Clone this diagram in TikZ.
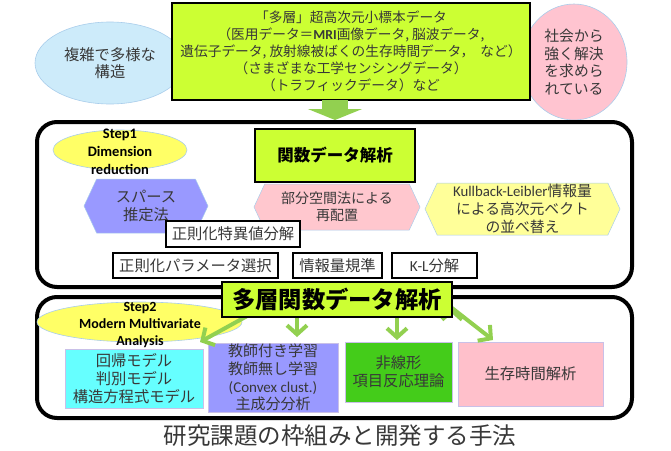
\documentclass[tikz,border=0pt]{standalone}
\usepackage{fontspec}
\setmainfont{Noto Sans CJK JP}
\newfontfamily\latin{Carlito}
\usetikzlibrary{shapes.geometric, shapes.symbols, arrows.meta}

\definecolor{limeyellow}{HTML}{CCFF33}
\definecolor{arrowgreen}{HTML}{92D050}
\definecolor{skyblob}{HTML}{CDEBFA}
\definecolor{pinkblob}{HTML}{FFC4D0}
\definecolor{bordblue}{HTML}{A9CDEB}
\definecolor{bordlilac}{HTML}{C9C0E8}
\definecolor{stepyellow}{HTML}{FFFF66}
\definecolor{hexpurple}{HTML}{9999FF}
\definecolor{hexpink}{HTML}{FFC7CE}
\definecolor{hexyellow}{HTML}{FFFF99}
\definecolor{boxcyan}{HTML}{66FFFF}
\definecolor{boxgreen}{HTML}{44CC1A}
\definecolor{boxpink}{HTML}{FFC0CB}
\definecolor{textgrey}{HTML}{383838}

\begin{document}
\begin{tikzpicture}[x=1pt, y=-1pt, inner sep=0pt, text=textgrey,
  font=\fontsize{13.7}{17}\selectfont]
  \tikzset{
    blob/.style={ellipse, draw=bordblue, line width=0.6pt, align=center},
    limebox/.style={draw=black, line width=2pt, fill=limeyellow, align=center},
    hexa/.style={signal, signal to=west and east, signal pointer angle=130,
      draw=bordblue, line width=0.5pt, align=center},
    tagbox/.style={draw=black, line width=1.8pt, fill=white,
      font=\fontsize{15.3}{17}\selectfont},
    frame/.style={draw=black, line width=4pt, rounded corners=20pt},
    method/.style={draw=bordlilac, line width=0.6pt, align=center,
      font=\fontsize{15.3}{18}\selectfont},
    steplabel/.style={align=center, text=black,
      font=\latin\bfseries\fontsize{14.5}{18}\selectfont},
    thinarrow/.style={draw=arrowgreen, line width=4pt,
      -{Straight Barb[length=9pt,width=20pt]}}
  }
  \useasboundingbox (0,0) rectangle (671,450);

  % top row
  \node[blob, fill=skyblob, minimum width=150, minimum height=82,
    font=\fontsize{15.3}{16.5}\selectfont] (complex) at (110,63) {複雑で多様な\\構造};
  \node[blob, fill=pinkblob, minimum width=106, minimum height=116,
    font=\fontsize{14.8}{17.5}\selectfont] (society) at (574,62)
    {社会から\\強く解決\\を求めら\\れている};
  \node[limebox, minimum width=358, minimum height=97] (data) at (351,51.5)
    {「多層」超高次元小標本データ\\
     （医用データ＝{\latin\bfseries MRI}画像データ, 脳波データ,\\
     遺伝子データ, 放射線被ばくの生存時間データ，\ \ など）\\
     （さまざまな工学センシングデータ）\\
     （トラフィックデータ）など};

  % frames
  \node[frame, minimum width=595, minimum height=165] (frame1) at (334.5,204.5) {};
  \node[frame, minimum width=595, minimum height=121] (frame2) at (334.5,357.5) {};

  \coordinate (dn) at (335,100);
  \draw[arrowgreen, line width=26pt, -{Triangle[length=11pt,width=54pt]}]
    (dn) -- (dn |- frame1.north);

  % step 1
  \node[blob, fill=stepyellow, minimum width=134, minimum height=40] (step1) at (120,150) {};
  \node[steplabel] (step1txt) at (120,152) {Step1\\Dimension\\reduction};
  \node[limebox, minimum width=160, minimum height=53, text=black,
    font=\bfseries\fontsize{16.5}{19}\selectfont] (fda) at (335,155.5) {関数データ解析};

  \node[hexa, fill=hexpurple, minimum width=124, minimum height=54,
    font=\fontsize{15.3}{18}\selectfont] (sparse) at (146,206) {スパース\\推定法};
  \node[hexa, fill=hexpink, minimum width=166, minimum height=46,
    font=\fontsize{14}{17}\selectfont] (subspace) at (337,207) {部分空間法による\\再配置};
  \node[hexa, fill=hexyellow, minimum width=195, minimum height=52,
    font=\fontsize{14.8}{18}\selectfont] (kullback) at (522.5,209)
    {{\latin Kullback-Leibler}情報量\\による高次元ベクト\\の並べ替え};

  \node[tagbox, minimum width=134, minimum height=26] (svd) at (233,234) {正則化特異値分解};
  \node[tagbox, minimum width=165, minimum height=25] (param) at (195.5,265.5) {正則化パラメータ選択};
  \node[tagbox, minimum width=89, minimum height=25] (info) at (337.5,265.5) {情報量規準};
  \node[tagbox, minimum width=85, minimum height=25] (kl) at (434.5,265.5) {{\latin K-L}分解};

  % step 2
  \node[blob, fill=stepyellow, minimum width=205, minimum height=40] (step2) at (139.5,322) {};
  \node[steplabel, font=\latin\bfseries\fontsize{14}{17}\selectfont] (step2txt)
    at (140,325) {Step2\\Modern Multivariate\\Analysis};

  \node[method, fill=boxcyan, minimum width=138, minimum height=59] (regress)
    at (134,378.5) {回帰モデル\\判別モデル\\構造方程式モデル};
  \node[method, fill=hexpurple, minimum width=130, minimum height=69,
    font=\fontsize{15}{17.7}\selectfont] (learn) at (273,377.5)
    {教師付き学習\\教師無し学習\\{\latin (Convex clust.)}\\主成分分析};
  \node[method, fill=boxgreen, minimum width=107, minimum height=60] (irt)
    at (398.5,372) {非線形\\項目反応理論};
  \node[method, fill=boxpink, minimum width=145, minimum height=64] (survival)
    at (530.5,374) {生存時間解析};

  \coordinate (r1) at (258,310); \coordinate (t1) at (200,342);
  \coordinate (r2) at (297,312); \coordinate (t2) at (297,337);
  \coordinate (r3) at (397,312); \coordinate (t3) at (397,340);
  \coordinate (r4) at (452,308); \coordinate (t4) at (493,340);
  \path[thinarrow]
    (r1) edge (t1)
    (r2) edge (t2)
    (r3) edge (t3)
    (r4) edge (t4);

  \node[limebox, minimum width=230, minimum height=35, text=black,
    font=\bfseries\fontsize{23.3}{26}\selectfont] (mfda) at (337,299.5) {多層関数データ解析};

  \node[font=\fontsize{23.5}{26}\selectfont] (caption) at (340,436) {研究課題の枠組みと開発する手法};
\end{tikzpicture}
\end{document}
